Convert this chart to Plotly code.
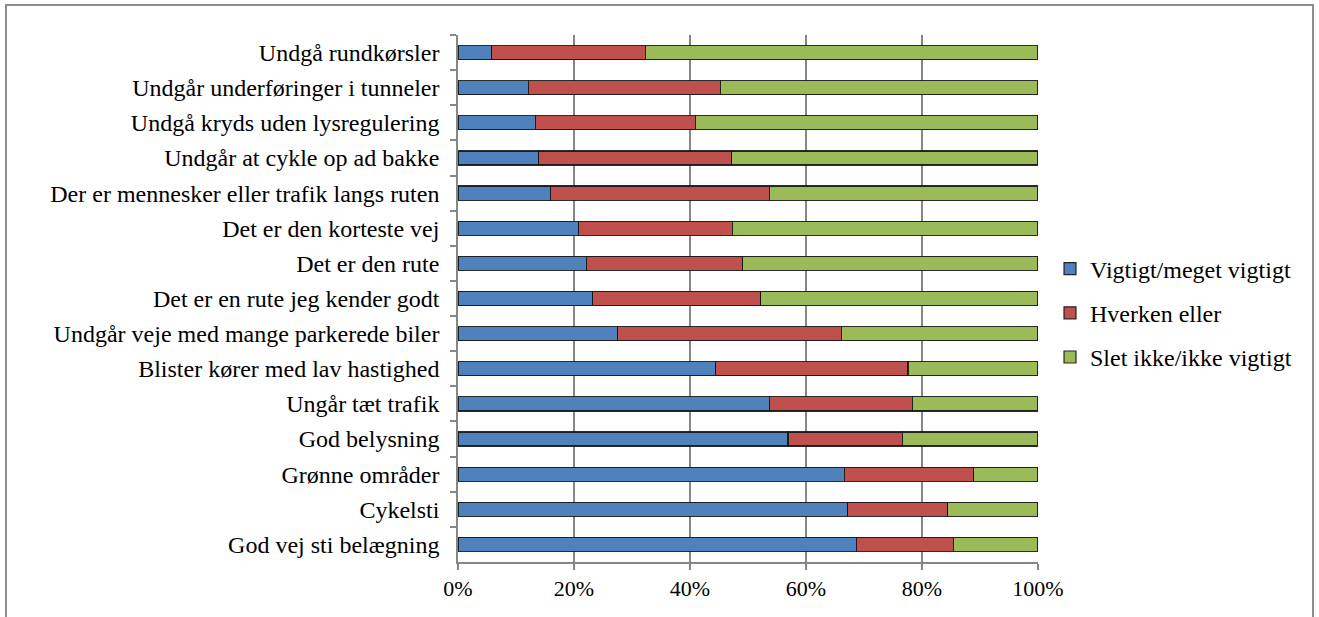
import plotly.graph_objects as go

# Route-choice factors, listed top to bottom as displayed
factors = [
    "Undgå rundkørsler",
    "Undgår underføringer i tunneler",
    "Undgå kryds uden lysregulering",
    "Undgår at cykle op ad bakke",
    "Der er mennesker eller trafik langs ruten",
    "Det er den korteste vej",
    "Det er den rute",
    "Det er en rute jeg kender godt",
    "Undgår veje med mange parkerede biler",
    "Blister kører med lav hastighed",
    "Ungår tæt trafik",
    "God belysning",
    "Grønne områder",
    "Cykelsti",
    "God vej sti belægning",
]

# Shares in percent
vigtigt = [5.8, 12.1, 13.3, 13.9, 15.9, 20.8, 22.1, 23.2, 27.5, 44.4, 53.7, 56.9, 66.6, 67.2, 68.7]
hverken = [26.5, 33.1, 27.6, 33.3, 37.8, 26.5, 27.0, 29.0, 38.6, 33.2, 24.6, 19.7, 22.3, 17.2, 16.7]
slet_ikke = [round(100 - a - b, 1) for a, b in zip(vigtigt, hverken)]

series_names = ["Vigtigt/meget vigtigt", "Hverken eller", "Slet ikke/ikke vigtigt"]
series_values = [vigtigt, hverken, slet_ikke]
series_colors = ["#4F81BD", "#C0504D", "#9BBB59"]

x_ticks = [0, 20, 40, 60, 80, 100]
x_tick_labels = ["0%", "20%", "40%", "60%", "80%", "100%"]

FONT = "Times New Roman, Liberation Serif, serif"
LABEL_SIZE = 24
TICK_SIZE = 22

fig = go.Figure()
for i, (name, vals, col) in enumerate(zip(series_names, series_values, series_colors)):
    fig.add_trace(go.Bar(
        y=factors,
        x=vals,
        name=name,
        orientation="h",
        width=0.4,
        marker=dict(color=col, line=dict(color="rgba(20,20,20,0.9)", width=1.2)),
        legendgroup=f"g{i}",
        hovertemplate="%{y}: %{x:.1f}%<extra>" + name + "</extra>",
    ))

W, H = 1319, 617
L, R, T, B = 458, 281, 35, 55
pw, ph = W - L - R, H - T - B

def px_x(p):
    return (p - L) / pw

def px_y(p):
    return (H - B - p) / ph

fig.update_layout(
    width=W,
    height=H,
    barmode="stack",
    bargap=0.6,
    margin=dict(l=L, r=R, t=T, b=B, pad=0),
    paper_bgcolor="white",
    plot_bgcolor="white",
    font=dict(family=FONT, size=LABEL_SIZE, color="black"),
    showlegend=True,
    legend=dict(
        x=px_x(1050),
        y=px_y(313),
        xanchor="left",
        yanchor="middle",
        traceorder="grouped",
        tracegroupgap=10,
        font=dict(family=FONT, size=LABEL_SIZE, color="black"),
        bgcolor="rgba(0,0,0,0)",
        itemwidth=30,
    ),
    xaxis=dict(
        range=[0, 100],
        tickvals=x_ticks,
        ticktext=x_tick_labels,
        showgrid=True,
        gridcolor="#868686",
        gridwidth=1.5,
        showline=True,
        linecolor="#868686",
        linewidth=1.5,
        ticks="outside",
        ticklen=6,
        tickcolor="#868686",
        tickwidth=1.5,
        zeroline=False,
        fixedrange=True,
        ticklabelstandoff=0,
        tickfont=dict(family=FONT, size=TICK_SIZE, color="black"),
    ),
    yaxis=dict(
        autorange="reversed",
        type="category",
        showline=True,
        linecolor="#868686",
        linewidth=1.5,
        ticks="outside",
        tickson="boundaries",
        ticklen=6,
        tickcolor="#868686",
        tickwidth=1.5,
        showgrid=False,
        ticklabelstandoff=12,
        fixedrange=True,
        tickfont=dict(family=FONT, size=LABEL_SIZE, color="black"),
    ),
    shapes=[
        dict(
            type="rect",
            xref="paper", yref="paper",
            x0=px_x(6), x1=px_x(1313),
            y0=px_y(640), y1=px_y(5),
            line=dict(color="#8C8C8C", width=2),
            fillcolor="rgba(0,0,0,0)",
            layer="below",
        )
    ],
)

fig.write_html("out.html")
